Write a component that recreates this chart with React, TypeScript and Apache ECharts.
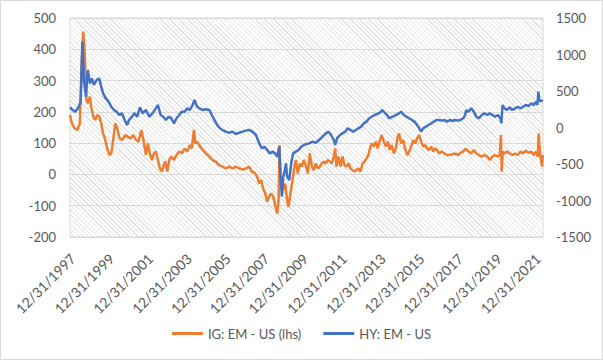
import React, { useEffect, useRef } from "react";
import * as echarts from "echarts";

// HY: EM - US (right axis) — decimal year / value
const hyYears = [
  1997.85, 1997.98, 1998.12, 1998.26, 1998.4, 1998.49, 1998.57, 1998.67, 1998.77, 1998.88, 1998.98,
  1999.08, 1999.22, 1999.36, 1999.46, 1999.56, 1999.7, 1999.84, 1999.98, 2000.12, 2000.26, 2000.39,
  2000.53, 2000.67, 2000.8, 2000.9, 2001.05, 2001.18, 2001.32, 2001.46, 2001.6, 2001.77, 2001.94,
  2002.11, 2002.28, 2002.39, 2002.53, 2002.66, 2002.8, 2002.94, 2003.08, 2003.22, 2003.35, 2003.49,
  2003.63, 2003.77, 2003.9, 2004.04, 2004.18, 2004.28, 2004.39, 2004.52, 2004.7, 2004.87, 2005.04,
  2005.17, 2005.31, 2005.45, 2005.59, 2005.73, 2005.89, 2006.07, 2006.24, 2006.41, 2006.59, 2006.76,
  2006.93, 2007.1, 2007.27, 2007.45, 2007.62, 2007.76, 2007.89, 2008.03, 2008.17, 2008.31, 2008.44,
  2008.55, 2008.65, 2008.72, 2008.79, 2008.86, 2008.93, 2009.0, 2009.06, 2009.17, 2009.27, 2009.37,
  2009.51, 2009.65, 2009.79, 2009.92, 2010.03, 2010.2, 2010.37, 2010.54, 2010.71, 2010.89, 2011.06,
  2011.2, 2011.33, 2011.47, 2011.54, 2011.64, 2011.78, 2011.92, 2012.06, 2012.19, 2012.33, 2012.47,
  2012.61, 2012.74, 2012.88, 2013.02, 2013.16, 2013.3, 2013.43, 2013.57, 2013.71, 2013.85, 2013.98,
  2014.12, 2014.22, 2014.33, 2014.5, 2014.67, 2014.84, 2014.95, 2015.08, 2015.22, 2015.36, 2015.5,
  2015.63, 2015.77, 2015.88, 2015.98, 2016.08, 2016.22, 2016.36, 2016.5, 2016.63, 2016.77, 2016.91,
  2017.05, 2017.18, 2017.32, 2017.46, 2017.6, 2017.73, 2017.87, 2018.01, 2018.15, 2018.25, 2018.3,
  2018.42, 2018.56, 2018.7, 2018.83, 2018.97, 2019.11, 2019.25, 2019.39, 2019.52, 2019.66, 2019.8,
  2019.94, 2020.07, 2020.12, 2020.18, 2020.28, 2020.42, 2020.55, 2020.69, 2020.83, 2020.97, 2021.11,
  2021.24, 2021.38, 2021.52, 2021.66, 2021.79, 2021.9, 2021.98, 2022.03, 2022.09, 2022.17, 2022.24,
];
const hyValues = [
  276, 240, 217, 262, 354, 1176, 650, 422, 788, 605, 673,
  582, 650, 673, 559, 468, 400, 354, 285, 240, 217, 171,
  194, 103, 34, 103, 148, 194, 148, 276, 194, 240, 148,
  194, 262, 308, 171, 148, 103, 148, 126, 57, 126, 171,
  217, 217, 262, 240, 308, 377, 294, 262, 240, 249, 240,
  171, 103, 34, -11, -34, -57, -71, -57, -89, -71, -57,
  -43, -34, -57, -103, -217, -285, -263, -308, -354, -331, -354,
  -400, -263, -674, -948, -674, -605, -491, -674, -720, -491, -354,
  -331, -308, -263, -240, -230, -217, -194, -208, -171, -126, -80,
  -57, -103, -171, -240, -148, -103, -80, -57, -11, -34, -57,
  -34, -11, 11, 57, 80, 126, 148, 171, 185, 203, 240,
  194, 171, 126, 148, 171, 194, 217, 171, 148, 126, 103,
  80, 34, -11, -57, -11, 11, 34, 57, 80, 103, 103,
  94, 103, 80, 103, 89, 103, 94, 103, 126, 171, 235,
  217, 262, 217, 148, 126, 171, 194, 171, 194, 171, 148,
  171, 126, 57, 308, 262, 240, 276, 240, 262, 285, 262,
  285, 308, 294, 331, 308, 354, 308, 491, 354, 377, 354,
];

// IG: EM - US (left axis) — decimal year / value
const igYears = [
  1997.85, 1997.95, 1998.09, 1998.23, 1998.36, 1998.46, 1998.53, 1998.6, 1998.7, 1998.77, 1998.88,
  1998.94, 1999.05, 1999.15, 1999.26, 1999.36, 1999.46, 1999.56, 1999.67, 1999.77, 1999.88, 1999.98,
  2000.08, 2000.19, 2000.29, 2000.39, 2000.5, 2000.6, 2000.7, 2000.84, 2000.98, 2001.12, 2001.26,
  2001.39, 2001.53, 2001.64, 2001.77, 2001.87, 2001.97, 2002.08, 2002.18, 2002.28, 2002.39, 2002.49,
  2002.6, 2002.66, 2002.77, 2002.87, 2002.97, 2003.08, 2003.22, 2003.35, 2003.49, 2003.63, 2003.77,
  2003.9, 2004.04, 2004.14, 2004.25, 2004.32, 2004.42, 2004.56, 2004.7, 2004.87, 2005.04, 2005.2,
  2005.37, 2005.54, 2005.73, 2005.89, 2006.07, 2006.24, 2006.41, 2006.59, 2006.76, 2006.93, 2007.1,
  2007.24, 2007.38, 2007.51, 2007.62, 2007.72, 2007.82, 2007.93, 2008.03, 2008.13, 2008.24, 2008.34,
  2008.44, 2008.55, 2008.62, 2008.67, 2008.72, 2008.79, 2008.86, 2008.96, 2009.06, 2009.13, 2009.23,
  2009.34, 2009.44, 2009.51, 2009.61, 2009.72, 2009.82, 2009.92, 2010.03, 2010.13, 2010.23, 2010.34,
  2010.44, 2010.54, 2010.65, 2010.75, 2010.85, 2010.96, 2011.06, 2011.16, 2011.27, 2011.37, 2011.47,
  2011.54, 2011.61, 2011.71, 2011.82, 2011.92, 2012.02, 2012.13, 2012.23, 2012.33, 2012.43, 2012.54,
  2012.64, 2012.74, 2012.85, 2012.95, 2013.05, 2013.16, 2013.26, 2013.36, 2013.43, 2013.54, 2013.64,
  2013.74, 2013.85, 2013.95, 2014.05, 2014.16, 2014.26, 2014.36, 2014.46, 2014.57, 2014.67, 2014.77,
  2014.84, 2014.95, 2015.05, 2015.15, 2015.26, 2015.36, 2015.46, 2015.57, 2015.67, 2015.77, 2015.88,
  2015.98, 2016.08, 2016.19, 2016.29, 2016.39, 2016.5, 2016.6, 2016.7, 2016.8, 2016.91, 2017.05,
  2017.18, 2017.32, 2017.46, 2017.6, 2017.73, 2017.87, 2018.01, 2018.15, 2018.28, 2018.42, 2018.56,
  2018.7, 2018.83, 2018.97, 2019.11, 2019.25, 2019.39, 2019.52, 2019.66, 2019.8, 2019.94, 2020.04,
  2020.1, 2020.14, 2020.19, 2020.28, 2020.42, 2020.55, 2020.69, 2020.83, 2020.97, 2021.11, 2021.24,
  2021.38, 2021.52, 2021.66, 2021.79, 2021.9, 2022.0, 2022.05, 2022.1, 2022.17, 2022.22, 2022.26,
];
const igValues = [
  190, 163, 147, 142, 163, 366, 457, 409, 238, 227, 249,
  217, 185, 174, 190, 185, 163, 131, 110, 83, 62, 67,
  110, 163, 147, 120, 110, 115, 126, 120, 115, 126, 110,
  105, 142, 110, 62, 99, 67, 46, 67, 73, 46, 19,
  9, 25, 41, 9, 46, 57, 46, 62, 73, 67, 83,
  73, 94, 83, 142, 99, 105, 89, 78, 67, 57, 46,
  41, 30, 25, 19, 25, 19, 25, 19, 16, 19, 25,
  9, 5, -7, -29, -18, -45, -61, -87, -71, -61, -71,
  -98, -125, -82, 94, -18, -39, -50, -29, -82, -104, -61,
  -18, 25, 46, 3, 35, 25, 46, 27, 3, 67, 25,
  14, 35, 19, 25, 35, 41, 35, 46, 41, 35, 57,
  83, 25, 57, 25, 57, 30, 25, 35, 19, 14, 9,
  14, 19, 9, 35, 41, 51, 62, 89, 99, 89, 105,
  83, 110, 126, 105, 89, 105, 78, 94, 67, 83, 121,
  131, 99, 110, 83, 62, 73, 89, 110, 99, 115, 126,
  105, 89, 94, 83, 78, 89, 73, 83, 78, 67, 73,
  67, 62, 62, 65, 67, 62, 69, 73, 83, 73, 67,
  78, 67, 62, 57, 62, 57, 46, 57, 62, 57, 62,
  126, 9, 73, 67, 73, 67, 62, 67, 62, 73, 67,
  76, 69, 73, 62, 73, 57, 131, 78, 46, 25, 62,
];

const xTickYears = [1998, 2000, 2002, 2004, 2006, 2008, 2010, 2012, 2014, 2016, 2018, 2020, 2022];
const seriesNames = ["IG: EM - US (lhs)", "HY: EM - US"];

const FONT = "Lato, 'Open Sans', sans-serif";
const GRID = { left: 70, top: 18, right: 60, bottom: 123 };

export default function App() {
  const ref = useRef<HTMLDivElement>(null);

  useEffect(() => {
    if (!ref.current) return;
    const chart = echarts.init(ref.current, null, { renderer: "svg" });
    const ig = igYears.map((y, i) => [y, igValues[i]]);
    const hy = hyYears.map((y, i) => [y, hyValues[i]]);
    chart.setOption({
      animation: false,
      textStyle: { fontFamily: FONT },
      grid: { ...GRID, show: true, borderColor: "#d9d9d9", borderWidth: 1, backgroundColor: "transparent" },
      legend: {
        data: seriesNames,
        left: "center",
        top: 322,
        icon: "rect",
        itemWidth: 31,
        itemHeight: 3,
        itemGap: 22,
        textStyle: { color: "#595959", fontSize: 13, fontFamily: FONT },
      },
      xAxis: {
        type: "value",
        min: 1997.85,
        max: 2022.27,
        splitLine: { show: false },
        axisTick: { show: false },
        axisLine: { show: false },
        axisLabel: {
          customValues: xTickYears,
          rotate: 45,
          margin: 19,
          color: "#595959",
          fontSize: 14,
          fontFamily: FONT,
          formatter: (v: number) => `12/31/${Math.round(v) - 1}`,
        },
      },
      yAxis: [
        {
          type: "value",
          min: -200,
          max: 500,
          interval: 100,
          axisLine: { show: false },
          axisTick: { show: false },
          splitLine: { lineStyle: { color: "#d9d9d9", width: 1 } },
          axisLabel: { color: "#595959", fontSize: 13, margin: 14, fontFamily: FONT, formatter: (v: number) => String(v) },
        },
        {
          type: "value",
          min: -1500,
          max: 1500,
          interval: 500,
          axisLine: { show: false },
          axisTick: { show: false },
          splitLine: { show: false },
          axisLabel: { color: "#595959", fontSize: 13, margin: 13, fontFamily: FONT, formatter: (v: number) => String(v) },
        },
      ],
      series: [
        {
          name: seriesNames[0],
          type: "line",
          yAxisIndex: 0,
          data: ig,
          showSymbol: false,
          color: "#ED7D31",
          lineStyle: { width: 2.5, color: "#ED7D31" },
          z: 2,
        },
        {
          name: seriesNames[1],
          type: "line",
          yAxisIndex: 1,
          data: hy,
          showSymbol: false,
          color: "#4472C4",
          lineStyle: { width: 2.5, color: "#4472C4" },
          z: 3,
        },
      ],
      graphic: [
        {
          type: "rect",
          shape: { x: 0.5, y: 0.5, width: 602, height: 359 },
          style: { fill: "none", stroke: "#d9d9d9", lineWidth: 1 },
          silent: true,
        },
      ],
    });
    return () => chart.dispose();
  }, []);

  return (
    <div style={{ position: "absolute", left: 0, top: 0, width: 603, height: 360, background: "#fff" }}>
      <div
        style={{
          position: "absolute",
          left: GRID.left,
          top: GRID.top,
          width: 603 - GRID.left - GRID.right,
          height: 360 - GRID.top - GRID.bottom,
          backgroundImage:
            "repeating-linear-gradient(45deg, #e2e2e2 0px, #e2e2e2 0.9px, #ffffff 0.9px, #ffffff 3.2px)",
        }}
      />
      <div ref={ref} style={{ position: "absolute", left: 0, top: 0, width: 603, height: 360 }} />
    </div>
  );
}
